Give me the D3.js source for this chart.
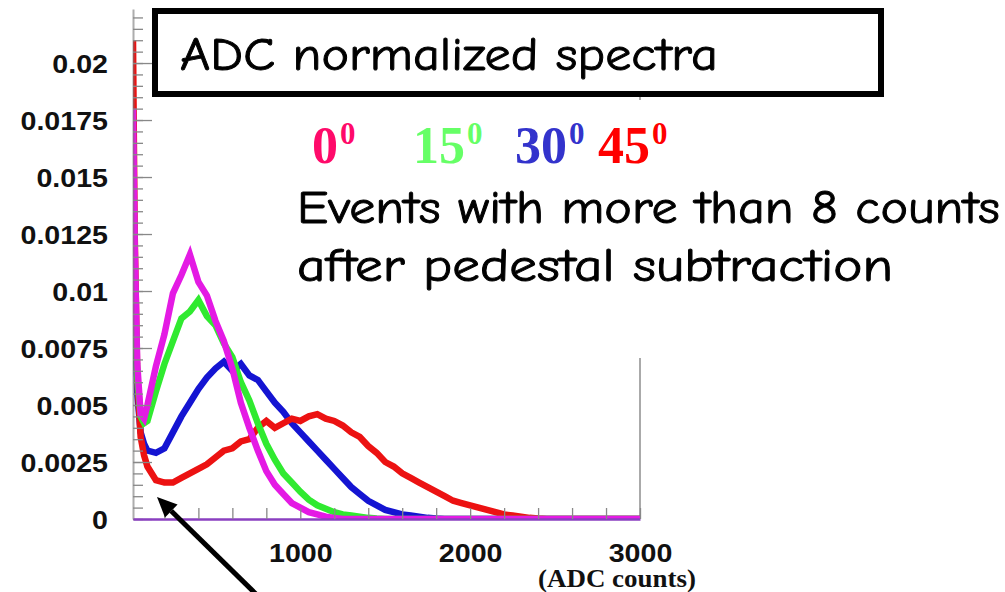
<!DOCTYPE html>
<html>
<head>
<meta charset="utf-8">
<script src="https://cdn.jsdelivr.net/npm/d3@7"></script>
<style>
  html, body { margin: 0; padding: 0; background: #fff; }
  svg { display: block; }
</style>
</head>
<body>
<svg id="chart" width="1005" height="592"></svg>
<script>
// ---------------- data ----------------
const adc = [15,25,40,60,80,100,150,200,250,300,350,400,450,500,550,600,650,700,750,800,850,900,950,1000,
  1050,1100,1150,1200,1250,1300,1350,1400,1450,1500,1550,1600,1650,1700,1750,1800,1850,1900,1950,2000,
  2050,2100,2150,2200,2250,2300,2350,2400,2450,2500,2600,2800,3000];

const deg0 = [0.0180,0.0120,0.0068,0.0046,0.0044,0.0050,0.0067,0.0081,0.0099,0.0107,0.0116,0.0104,0.0098,0.0087,
  0.0078,0.0066,0.0051,0.0040,0.0030,0.0021,0.0015,0.0011,0.0007,0.0005,0.0003,0.0002,0.0001,0.00005,
  0,0,0,0,0,0,0,0,0,0,0,0,0,0,0,0,0,0,0,0,0,0,0,0,0,0,0,0,0];

const deg15 = [0.0165,0.0100,0.0062,0.0045,0.0042,0.0043,0.0056,0.0068,0.0078,0.0088,0.0091,0.0096,0.0089,0.0085,
  0.0077,0.0071,0.0060,0.0052,0.0042,0.0033,0.0026,0.0020,0.0016,0.0012,0.00085,0.0006,0.00045,0.0003,
  0.0002,0.00015,0.0001,0.00005,0.00002,0,0,0,0,0,0,0,0,0,0,0,0,0,0,0,0,0,0,0,0,0,0,0,0];

const deg30 = [0.0160,0.0095,0.0055,0.0038,0.0033,0.0030,0.0029,0.0031,0.0038,0.0045,0.0051,0.0057,0.0062,0.0066,
  0.0069,0.0065,0.0068,0.0063,0.0061,0.0056,0.0051,0.0047,0.0042,0.0038,0.0034,0.0030,0.0026,0.0022,
  0.0018,0.0014,0.0011,0.0008,0.0006,0.0004,0.0003,0.0002,0.00015,0.0001,0.00005,0.00002,
  0,0,0,0,0,0,0,0,0,0,0,0,0,0,0,0,0];

const deg45 = [0.0210,0.0125,0.0062,0.0036,0.0028,0.0023,0.0017,0.0016,0.0016,0.0018,0.0020,0.0022,0.0024,0.0027,
  0.0030,0.0031,0.0034,0.0035,0.0040,0.0043,0.0040,0.0042,0.0044,0.0043,0.0045,0.0046,0.0044,0.0043,
  0.0041,0.0038,0.0036,0.0032,0.0029,0.0025,0.0023,0.0020,0.0018,0.0016,0.0014,0.0012,0.0010,0.0008,
  0.0007,0.0006,0.0005,0.0004,0.0003,0.0002,0.00015,0.0001,0.00005,0.00002,0,0,0,0,0];

const legendLabels = ["0", "15", "30", "45"];
const legendColors = ["#ff0a6a", "#66ff66", "#3333cc", "#ff0000"];

const yMajorTicks = [0, 0.0025, 0.005, 0.0075, 0.01, 0.0125, 0.015, 0.0175, 0.02];
const yTickLabels = ["0", "0.0025", "0.005", "0.0075", "0.01", "0.0125", "0.015", "0.0175", "0.02"];
const xTicks = [200,400,600,800,1000,1200,1400,1600,1800,2000,2200,2400,2600,2800,3000];
const xLabelTicks = [1000, 2000, 3000];

const titleText = "ADC normalized spectra";
const noteLines = ["Events with more than 8 counts", "after pedestal subtraction"];
const xUnitText = "(ADC counts)";

// ---------------- layout ----------------
const svg = d3.select("#chart");
const L = 133, R = 640, T = 9, B = 519;
const x = d3.scaleLinear().domain([15, 3000]).range([L, R]);
const y = d3.scaleLinear().domain([0, 0.02237]).range([B, T]);

const comic = "'Comic Sans MS', 'Comic Neue', 'DejaVu Sans', sans-serif";
const helv = "'Liberation Sans', Arial, Helvetica, sans-serif";
const times = "'Liberation Serif', 'Times New Roman', serif";

function stretch(sel, factor) {
  sel.each(function () {
    const w = this.getComputedTextLength();
    d3.select(this).attr("textLength", w * factor).attr("lengthAdjust", "spacingAndGlyphs");
  });
}
function fitTo(sel, width) {
  sel.attr("textLength", width).attr("lengthAdjust", "spacingAndGlyphs");
}

// right frame line
svg.append("line").attr("x1", R).attr("x2", R).attr("y1", T).attr("y2", B)
  .attr("stroke", "#aaa").attr("stroke-width", 2);

// clip
svg.append("clipPath").attr("id", "plotclip").append("rect")
  .attr("x", L).attr("y", 0).attr("width", R - L).attr("height", B);

const series = [
  { values: deg30, color: "#1414d2" },
  { values: deg45, color: "#ec1212" },
  { values: deg15, color: "#30ea30" },
  { values: deg0, color: "#e41ae4" }
];

const line = d3.line().x((d, i) => x(adc[i])).y(d => y(d));
const gCurves = svg.append("g").attr("clip-path", "url(#plotclip)");
series.forEach(s => {
  gCurves.append("path")
    .datum(s.values)
    .attr("d", line)
    .attr("fill", "none")
    .attr("stroke", s.color)
    .attr("stroke-width", 6.5)
    .attr("stroke-linejoin", "miter");
});

// y axis: minor ticks
const yMinor = d3.range(0, 45).map(i => i * 0.0005);
svg.append("g").attr("transform", `translate(${L},0)`)
  .call(d3.axisLeft(y).tickValues(yMinor).tickSizeInner(-10).tickSizeOuter(0).tickFormat(""))
  .call(g => g.selectAll("line").attr("stroke", "#888").attr("stroke-width", 1.3))
  .call(g => g.select(".domain").attr("stroke", "#777").attr("stroke-width", 2).attr("stroke-opacity", 0.6));

// y axis: major ticks + labels
const yAx = svg.append("g").attr("transform", `translate(${L},0)`)
  .call(d3.axisLeft(y).tickValues(yMajorTicks).tickSizeInner(-19).tickSizeOuter(0).tickPadding(25)
    .tickFormat((d, i) => yTickLabels[i]));
yAx.select(".domain").remove();
yAx.selectAll("line").attr("stroke", "#888").attr("stroke-width", 1.3);
yAx.selectAll("text").attr("font-family", helv).attr("font-weight", "bold")
  .attr("font-size", 26).attr("fill", "#111").attr("dy", "0.36em");
stretch(yAx.selectAll("text"), 1.1);

// x axis
const xAx = svg.append("g").attr("transform", `translate(0,${B})`)
  .call(d3.axisBottom(x).tickValues(xTicks).tickSizeInner(-11).tickSizeOuter(0).tickPadding(24)
    .tickFormat(d => xLabelTicks.includes(d) ? String(d) : ""));
xAx.select(".domain").attr("stroke", "#8a3fc0").attr("stroke-width", 2.5);
xAx.selectAll("line").attr("stroke", "#888").attr("stroke-width", 1.3);
xAx.selectAll("text").attr("font-family", helv).attr("font-weight", "bold")
  .attr("font-size", 26).attr("fill", "#111").attr("dy", "0.72em");
stretch(xAx.selectAll("text"), 1.1);

// x unit label
const unit = svg.append("text").attr("x", 538).attr("y", 587)
  .attr("font-family", times).attr("font-weight", "bold").attr("font-size", 25)
  .attr("fill", "#111").text(xUnitText);
fitTo(unit, 158);

// title box
svg.append("rect").attr("x", 155).attr("y", 11).attr("width", 726).attr("height", 83)
  .attr("fill", "#fff").attr("stroke", "#000").attr("stroke-width", 6);
const title = svg.append("text").attr("x", 180).attr("y", 70)
  .attr("font-family", comic).attr("font-size", 46).attr("fill", "#000")
  .attr("stroke", "#000").attr("stroke-width", 0.9).text(titleText);
fitTo(title, 538);

// note area background
svg.append("rect").attr("x", 287).attr("y", 100).attr("width", 718).attr("height", 258).attr("fill", "#fff");

// legend
const legendX = [312, 413, 515, 598];
legendLabels.forEach((lab, i) => {
  const t = svg.append("text").attr("x", legendX[i]).attr("y", 163)
    .attr("font-family", times).attr("font-weight", "bold").attr("font-size", 52)
    .attr("fill", legendColors[i]);
  t.append("tspan").text(lab);
  t.append("tspan").attr("font-size", 31).attr("dx", 2).attr("dy", -19).text("0");
});

// note lines
const noteBase = [223, 281];
const noteWidths = [703, 596];
noteLines.forEach((txt, i) => {
  const t = svg.append("text").attr("x", 297).attr("y", noteBase[i])
    .attr("font-family", comic).attr("font-size", 46).attr("fill", "#000")
    .attr("stroke", "#000").attr("stroke-width", 0.9).text(txt);
  fitTo(t, noteWidths[i]);
});

// arrow annotation
const tip = [157, 497], tail = [262, 600];
const ang = Math.atan2(tail[1] - tip[1], tail[0] - tip[0]);
const hl = 20, hw = 9;
const bx = tip[0] + hl * Math.cos(ang), by = tip[1] + hl * Math.sin(ang);
svg.append("line").attr("x1", tail[0]).attr("y1", tail[1]).attr("x2", bx).attr("y2", by)
  .attr("stroke", "#000").attr("stroke-width", 5);
svg.append("polygon")
  .attr("points", [
    tip,
    [bx + hw * Math.sin(ang), by - hw * Math.cos(ang)],
    [bx - hw * Math.sin(ang), by + hw * Math.cos(ang)]
  ].map(p => p.join(",")).join(" "))
  .attr("fill", "#000");
</script>
</body>
</html>
